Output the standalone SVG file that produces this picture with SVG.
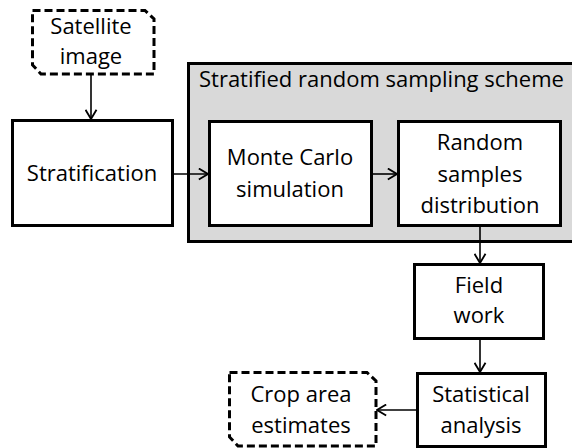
<svg xmlns="http://www.w3.org/2000/svg" width="572" height="448" viewBox="0 0 572 448">
<defs>
<marker id="arr" viewBox="0 0 12 14" refX="11" refY="7" markerWidth="11" markerHeight="13" markerUnits="userSpaceOnUse" orient="auto">
<path d="M1,1 L11,7 L1,13" fill="none" stroke="#000" stroke-width="2"/>
</marker>
<style>
.box{fill:#fff;stroke:#000;stroke-width:3}
.dash{fill:#fff;stroke:#000;stroke-width:3;stroke-dasharray:8,4}
.grp{fill:#d9d9d9;stroke:#000;stroke-width:3}
.t{font-family:"Open Sans","Liberation Sans",sans-serif;font-size:22px;fill:#000;text-anchor:middle}
.c{fill:none;stroke:#000;stroke-width:1.6;marker-end:url(#arr)}
</style>
</defs>
<rect width="572" height="448" fill="#fff"/>
<g id="scheme">
<rect class="grp" x="188.5" y="63.5" width="400" height="178"/>
<text class="t" x="199" y="87" style="text-anchor:start">Stratified random sampling scheme</text>
</g>
<g id="satellite">
<path class="dash" d="M32.5,10.5 H145 L154,19 V74 H41 L32.5,65 Z"/>
<text class="t" x="91" y="34">Satellite</text>
<text class="t" x="91" y="64">image</text>
</g>
<g id="stratification">
<rect class="box" x="12.5" y="120.5" width="160" height="105"/>
<text class="t" x="92" y="181">Stratification</text>
</g>
<g id="montecarlo">
<rect class="box" x="209.5" y="121.5" width="162" height="104"/>
<text class="t" x="290" y="165">Monte Carlo</text>
<text class="t" x="290" y="197">simulation</text>
</g>
<g id="random">
<rect class="box" x="398.5" y="121.5" width="162" height="104"/>
<text class="t" x="480" y="150">Random</text>
<text class="t" x="480" y="182">samples</text>
<text class="t" x="480" y="213">distribution</text>
</g>
<g id="field">
<rect class="box" x="414.5" y="264.5" width="129" height="74"/>
<text class="t" x="479" y="293">Field</text>
<text class="t" x="479" y="323">work</text>
</g>
<g id="statistical">
<rect class="box" x="417.5" y="373.5" width="128" height="73"/>
<text class="t" x="481" y="402">Statistical</text>
<text class="t" x="481" y="433">analysis</text>
</g>
<g id="crop">
<path class="dash" d="M229.5,372.5 H367 L376,381 V446 H238 L229.5,437 Z"/>
<text class="t" x="301" y="402">Crop area</text>
<text class="t" x="301" y="433">estimates</text>
</g>
<g id="connectors">
<path class="c" d="M91,75 V119"/>
<path class="c" d="M173,174 H208"/>
<path class="c" d="M372,174 H397"/>
<path class="c" d="M480,226 V263"/>
<path class="c" d="M480,339 V372"/>
<path class="c" d="M416,410 H377"/>
</g>
</svg>
